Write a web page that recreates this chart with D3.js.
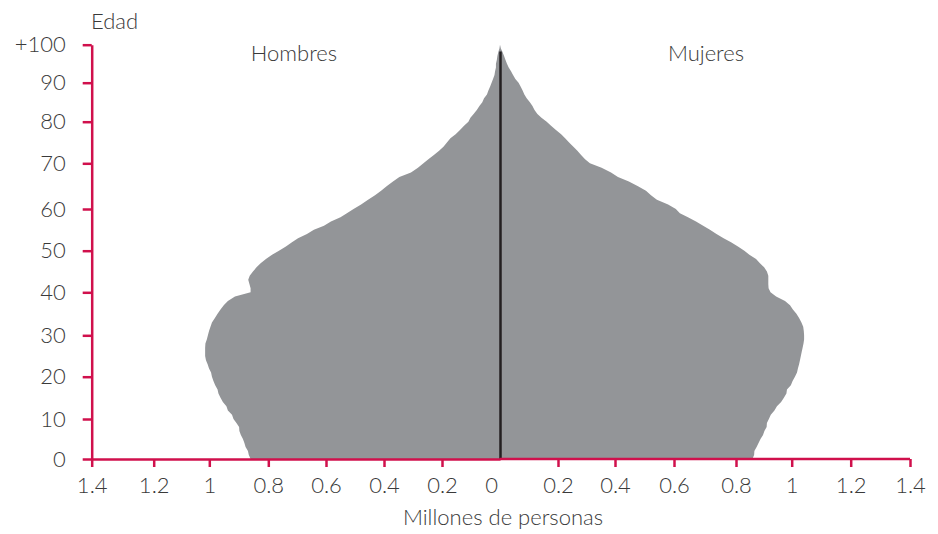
<!DOCTYPE html>
<html>
<head>
<meta charset="utf-8">
<script src="https://cdn.jsdelivr.net/npm/d3@7"></script>
<style>
  html, body { margin: 0; padding: 0; background: #ffffff; }
  svg { display: block; }
  text { font-family: Lato, "Open Sans", sans-serif; font-weight: 300; fill: #3a3a3a; }
</style>
</head>
<body>
<svg id="chart" width="938" height="534"></svg>
<script>
// ---- data (millions of persons, single years of age 0..100) ----
const ages = d3.range(0, 101);
const hombres = [
  0.860, 0.866, 0.869, 0.877, 0.881, 0.886, 0.893, 0.898, 0.899, 0.908,
  0.918, 0.923, 0.937, 0.942, 0.954, 0.962, 0.969, 0.972, 0.980, 0.986,
  0.991, 0.994, 1.001, 1.006, 1.012, 1.015, 1.015, 1.015, 1.014, 1.009,
  1.005, 1.001, 0.996, 0.991, 0.981, 0.972, 0.962, 0.951, 0.937, 0.913,
  0.860, 0.860, 0.864, 0.868, 0.863, 0.852, 0.840, 0.826, 0.808, 0.787,
  0.763, 0.739, 0.718, 0.697, 0.666, 0.642, 0.607, 0.583, 0.550, 0.528,
  0.505, 0.479, 0.455, 0.431, 0.410, 0.391, 0.369, 0.347, 0.307, 0.283,
  0.264, 0.247, 0.228, 0.210, 0.195, 0.183, 0.171, 0.153, 0.138, 0.124,
  0.109, 0.102, 0.091, 0.080, 0.071, 0.061, 0.055, 0.045, 0.040, 0.034,
  0.029, 0.024, 0.019, 0.017, 0.014, 0.014, 0.011, 0.009, 0.006, 0.002,
  0.000
];
const mujeres = [
  0.859, 0.865, 0.866, 0.874, 0.881, 0.888, 0.897, 0.902, 0.910, 0.911,
  0.918, 0.925, 0.938, 0.947, 0.962, 0.972, 0.981, 0.983, 0.997, 1.003,
  1.011, 1.018, 1.021, 1.025, 1.028, 1.031, 1.034, 1.037, 1.040, 1.042,
  1.042, 1.041, 1.039, 1.033, 1.025, 1.016, 1.004, 0.994, 0.976, 0.944,
  0.924, 0.917, 0.916, 0.916, 0.916, 0.911, 0.901, 0.886, 0.872, 0.848,
  0.830, 0.807, 0.784, 0.760, 0.737, 0.716, 0.694, 0.671, 0.645, 0.619,
  0.606, 0.580, 0.542, 0.522, 0.505, 0.478, 0.447, 0.410, 0.386, 0.353,
  0.312, 0.295, 0.281, 0.268, 0.254, 0.239, 0.225, 0.211, 0.193, 0.176,
  0.161, 0.143, 0.129, 0.119, 0.112, 0.103, 0.092, 0.084, 0.078, 0.071,
  0.064, 0.053, 0.045, 0.038, 0.030, 0.024, 0.019, 0.014, 0.009, 0.003,
  0.000
];
const ageTicks = [0, 10, 20, 30, 40, 50, 60, 70, 80, 90, 100];
const valueTicks = [0, 0.2, 0.4, 0.6, 0.8, 1, 1.2, 1.4];
const sideLabels = ["Hombres", "Mujeres"];
const yTitle = "Edad";
const xTitle = "Millones de personas";

// ---- layout ----
const svg = d3.select("#chart");
const axisColor = "#d0104c";
const fillColor = "#939598";

// the original axes are spaced slightly unevenly; polylinear scales reproduce them
const y = d3.scaleLinear()
  .domain(ageTicks)
  .range([459, 419, 376.7, 335.3, 292.3, 250.7, 209, 163.3, 121.7, 82.7, 44.7]);
const xM = d3.scaleLinear()
  .domain(valueTicks)
  .range([500, 442, 384, 326, 268.3, 209.3, 153.7, 91.7]);
const xW = d3.scaleLinear()
  .domain(valueTicks)
  .range([500, 558, 615, 674, 736, 791.7, 850.7, 910]);

const rows = ages.map((a, i) => ({ age: a, m: hombres[i], w: mujeres[i] }));
const fmt = d => String(d);

// ---- pyramid shapes ----
svg.append("path")
  .datum(rows)
  .attr("fill", fillColor)
  .attr("d", d3.area().y(d => y(d.age)).x0(xM(0)).x1(d => xM(d.m)));
svg.append("path")
  .datum(rows)
  .attr("fill", fillColor)
  .attr("d", d3.area().y(d => y(d.age)).x0(xW(0)).x1(d => xW(d.w)));

// center line
svg.append("line")
  .attr("x1", xW(0) + 0.5).attr("x2", xW(0) + 0.5)
  .attr("y1", y(98.2)).attr("y2", y(0))
  .attr("stroke", "#231f20").attr("stroke-width", 2.5);

// ---- axes ----
function styleAxis(g) {
  g.select(".domain").attr("stroke", axisColor).attr("stroke-width", 2.5);
  g.selectAll(".tick line").attr("stroke", axisColor).attr("stroke-width", 2.5);
  g.selectAll(".tick text")
    .attr("fill", "#3a3a3a")
    .style("font-family", "Lato, 'Open Sans', sans-serif")
    .style("font-weight", 300)
    .style("font-size", "22px");
}

const gy = svg.append("g")
  .attr("transform", `translate(${xM(1.4)},0)`)
  .call(d3.axisLeft(y).tickValues(ageTicks).tickSize(9).tickSizeOuter(0).tickPadding(17)
    .tickFormat(d => d === 100 ? "+100" : fmt(d)));
styleAxis(gy);

const gxM = svg.append("g")
  .attr("transform", `translate(0,${y(0)})`)
  .call(d3.axisBottom(xM).tickValues(valueTicks).tickSize(8).tickSizeOuter(0).tickPadding(10)
    .tickFormat(fmt));
styleAxis(gxM);
gxM.selectAll(".tick").filter(d => d === 0).select("text").attr("dx", "-9");
gxM.selectAll(".tick").filter(d => d === 0).select("line").remove();

const gxW = svg.append("g")
  .attr("transform", `translate(0,${y(0)})`)
  .call(d3.axisBottom(xW).tickValues(valueTicks.slice(1)).tickSize(8).tickSizeOuter(0).tickPadding(10)
    .tickFormat(fmt));
styleAxis(gxW);
gxW.select(".domain").attr("d", `M${xW(0)},0H${xW(1.4)}`);

// ---- titles ----
svg.append("text").attr("x", 91).attr("y", 29).attr("font-size", 22).text(yTitle);
svg.append("text").attr("x", 294).attr("y", 61).attr("text-anchor", "middle").attr("font-size", 22).text(sideLabels[0]);
svg.append("text").attr("x", 706).attr("y", 61).attr("text-anchor", "middle").attr("font-size", 22).text(sideLabels[1]);
svg.append("text").attr("x", 503).attr("y", 525).attr("text-anchor", "middle").attr("font-size", 22).text(xTitle);
</script>
</body>
</html>
